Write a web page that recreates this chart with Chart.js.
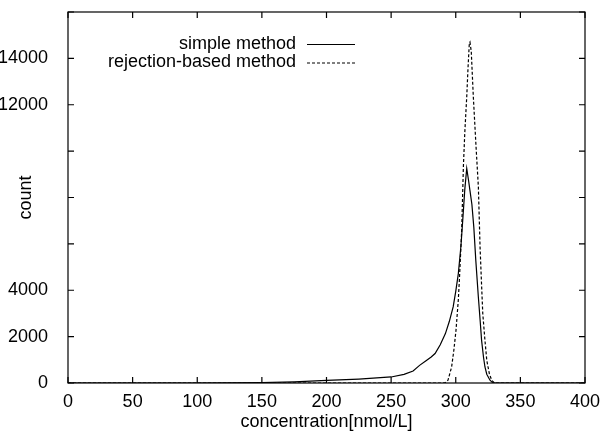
<!DOCTYPE html>
<html>
<head>
<meta charset="utf-8">
<script src="https://cdn.jsdelivr.net/npm/chart.js@4"></script>
<style>
  html, body { margin: 0; padding: 0; background: #fff; }
  #wrap { width: 605px; height: 434px; }
</style>
</head>
<body>
<div id="wrap"><canvas id="chart"></canvas></div>
<script>
const simpleX = [0, 50, 100, 125, 150, 175, 200, 225, 250, 260, 267, 272, 277, 281, 284, 288, 292, 295, 298, 300, 302, 304, 305.5, 307, 308.5, 310, 311, 312.5, 314, 315.5, 317.5, 319, 320, 321.5, 322.6, 324, 326.5, 328, 330, 350, 400];
const simpleY = [0, 0, 0, 5, 20, 50, 110, 170, 260, 370, 520, 760, 960, 1120, 1270, 1650, 2130, 2650, 3280, 3950, 4720, 5900, 7100, 8350, 9250, 8700, 8300, 7700, 6700, 5300, 3700, 2600, 1840, 1100, 690, 380, 120, 40, 0, 0, 0];

const rejX = [0, 285, 290, 292, 294, 296.8, 298.5, 300.2, 302, 302.8, 304.6, 305.9, 307, 308.5, 309.5, 310.5, 311, 312, 313.6, 315.7, 317.5, 318.8, 320, 320.9, 322.5, 324, 326, 327.8, 330, 400];
const rejY = [0, 0, 0, 20, 120, 690, 1400, 2280, 3600, 4430, 6590, 9320, 10800, 12340, 13600, 14650, 14700, 14300, 12340, 10190, 8460, 5870, 4200, 3000, 1900, 980, 400, 120, 0, 0];

const seriesLabels = ["simple method", "rejection-based method"];
const yShownTicks = [0, 2000, 4000, 12000, 14000];

const FONT = "'Liberation Sans', Arial, sans-serif";
const FS = 18;
const toPts = (xs, ys) => xs.map((x, i) => ({ x: x, y: ys[i] }));

// gnuplot-style frame, inward ticks and key
const frame = {
  id: "frame",
  afterDraw(chart) {
    const { ctx, chartArea: a, scales } = chart;
    ctx.save();
    ctx.strokeStyle = "#000";
    ctx.lineWidth = 1.2;
    ctx.strokeRect(a.left, a.top, a.right - a.left, a.bottom - a.top);
    const len = 6;
    ctx.beginPath();
    scales.x.ticks.forEach(t => {
      const px = scales.x.getPixelForValue(t.value);
      ctx.moveTo(px, a.bottom); ctx.lineTo(px, a.bottom - len);
      ctx.moveTo(px, a.top); ctx.lineTo(px, a.top + len);
    });
    scales.y.ticks.forEach(t => {
      const py = scales.y.getPixelForValue(t.value);
      ctx.moveTo(a.left, py); ctx.lineTo(a.left + len, py);
      ctx.moveTo(a.right, py); ctx.lineTo(a.right - len, py);
    });
    ctx.stroke();

    // key
    ctx.font = FS + "px " + FONT;
    ctx.fillStyle = "#000";
    ctx.textAlign = "right";
    ctx.textBaseline = "middle";
    chart.data.datasets.forEach((ds, i) => {
      const y = 44 + i * 18.5;
      ctx.fillText(ds.label, 296, y);
      ctx.beginPath();
      ctx.setLineDash(ds.borderDash || []);
      ctx.lineWidth = 1.2;
      ctx.moveTo(307, y + 0.5); ctx.lineTo(355, y + 0.5);
      ctx.stroke();
    });
    ctx.restore();
  }
};

new Chart(document.getElementById("chart"), {
  type: "line",
  data: {
    datasets: [
      {
        label: seriesLabels[0],
        data: toPts(simpleX, simpleY),
        borderColor: "#000",
        borderWidth: 1.2,
        pointRadius: 0,
        tension: 0,
      },
      {
        label: seriesLabels[1],
        data: toPts(rejX, rejY),
        borderColor: "#000",
        borderWidth: 1.2,
        borderDash: [3, 2],
        pointRadius: 0,
        tension: 0,
      },
    ],
  },
  options: {
    responsive: true,
    maintainAspectRatio: false,
    animation: false,
    layout: { padding: { top: 12, right: 20, left: 0, bottom: 0 } },
    plugins: { legend: { display: false }, tooltip: { enabled: false } },
    scales: {
      x: {
        type: "linear",
        min: 0,
        max: 400,
        border: { display: false },
        grid: { display: false },
        ticks: { stepSize: 50, padding: 0, color: "#000", font: { family: FONT, size: FS }, maxRotation: 0 },
        title: { display: true, text: "concentration[nmol/L]", color: "#000", font: { family: FONT, size: FS }, padding: { top: 0, bottom: 1 } },
        afterFit(s) { s.height = 51; s.paddingLeft = 0; s.paddingRight = 0; },
      },
      y: {
        min: 0,
        max: 16000,
        border: { display: false },
        grid: { display: false },
        ticks: {
          stepSize: 2000,
          padding: 12,
          color: "#000",
          font: { family: FONT, size: FS },
          callback: (v) => (yShownTicks.includes(v) ? String(v) : ""),
        },
        title: { display: true, text: "count", color: "#000", font: { family: FONT, size: FS }, padding: { top: 15, bottom: 0 } },
        afterFit(s) { s.width = 68; s.paddingTop = 0; s.paddingBottom = 0; },
      },
    },
  },
  plugins: [frame],
});
</script>
</body>
</html>
